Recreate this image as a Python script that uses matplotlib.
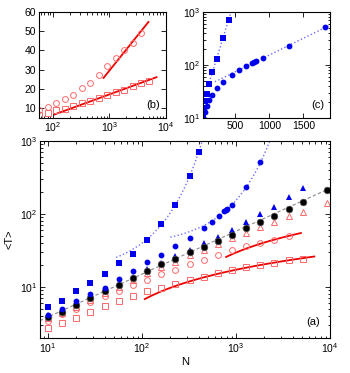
import numpy as np
import matplotlib
matplotlib.use("Agg")
import matplotlib.pyplot as plt

plt.rcParams['font.family'] = ['Liberation Sans', 'DejaVu Sans']
plt.rcParams['mathtext.fontset'] = 'custom'
plt.rcParams['mathtext.rm'] = 'Liberation Sans'
plt.rcParams['mathtext.it'] = 'Liberation Sans:italic'

# chain lengths (sqrt(2) grid)
N_grid = [10, 14, 20, 28, 40, 57, 80, 113, 160, 226, 320, 453, 640, 905,
          1280, 1810, 2560, 3620, 5120]

# red open squares / circles
T_red_sq = [2.7, 3.2, 3.8, 4.6, 5.5, 6.5, 7.6, 8.9, 9.8, 11.1, 12.5, 13.8,
            15.4, 17.1, 18.5, 19.7, 21.4, 23.1, 24.4]
T_red_ci = [3.4, 4.2, 5.0, 6.3, 7.5, 8.9, 10.7, 12.6, 15.0, 17.1, 20.3, 23.3,
            27.5, 32.0, 36.0, 40.2, 44.0, 49.3]

# blue filled squares / circles
N_blue_sq = [10, 14, 20, 28, 40, 57, 80, 113, 160, 226, 320, 400]
T_blue_sq = [5.3, 6.5, 8.9, 11.2, 15.2, 21.0, 28.3, 44.5, 72, 132, 328, 700]
N_blue_ci = [10, 14, 20, 28, 40, 57, 80, 113, 160, 226, 320, 453,
             560, 660, 750, 780, 810, 910, 1290, 1820]
T_blue_ci = [4.1, 5.0, 6.5, 8.0, 9.6, 13.0, 16.6, 21.9, 27.5, 36.5, 47.3, 63.6,
             78.5, 94, 110, 114, 118, 133, 231, 510]

# black dots, blue filled triangles, red open triangles
N_black = N_grid + [9300]
T_black = [3.9, 4.6, 5.6, 7.0, 8.9, 10.5, 13.1, 16.6, 20.5, 23.9, 29.9, 35.6,
           42.7, 51.5, 63.6, 76.9, 94, 117, 147, 213]
T_blue_tri = [4.1, 4.8, 5.9, 7.4, 9.3, 11.1, 13.8, 17.5, 21.6, 26.2, 32.1, 39.7,
              48.9, 60.4, 76.9, 99, 125, 169, 225]
T_red_tri = [3.7, 4.4, 5.3, 6.6, 8.3, 9.9, 12.3, 15.5, 19.0, 22.0, 27.4, 32.1,
             38.8, 46.5, 54.4, 65.8, 78.5, 94, 108, 140]

# theory lines
nu = 0.588                      # <T> ~ N^nu
log_sq = (10.7, -14.9, 107, 6800)   # slope, intercept (vs log10 N), N range
log_ci = (36.5, -79.9, 785, 4900)

BLUE = "#0000ee"
LBLUE = "#6f6fff"
RED = "#ff6a6a"
LRED = "#ee0000"


def exp_fit(N, T, nmin):
    N = np.asarray(N, float)
    T = np.asarray(T, float)
    m = N >= nmin
    return np.polyfit(N[m], np.log(T[m]), 1)


fit_bsq = exp_fit(N_blue_sq, T_blue_sq, 113)
fit_bci = exp_fit(N_blue_ci, T_blue_ci, 560)


def style(ax):
    ax.tick_params(which="both", direction="in", top=True, right=True,
                   labelsize=7.5, width=0.6, pad=2)
    ax.tick_params(which="major", length=3.5)
    ax.tick_params(which="minor", length=1.8)
    for s in ax.spines.values():
        s.set_linewidth(0.8)


fig = plt.figure(figsize=(3.5, 3.73), dpi=100)

# ---- main panel (a)
ax = fig.add_axes([0.114, 0.094, 0.829, 0.528])
ax.set_xscale("log")
ax.set_yscale("log")

x = np.logspace(np.log10(8.2), 4, 100)
ax.plot(x, x**nu, "--", color="#8c8c8c", lw=0.8, dashes=(3, 2))

xs = np.linspace(53, 520, 200)
ax.plot(xs, np.exp(np.polyval(fit_bsq, xs)), ":", color=LBLUE, lw=1.0)
xc = np.linspace(200, 2500, 200)
ax.plot(xc, np.exp(np.polyval(fit_bci, xc)), ":", color=LBLUE, lw=1.0)

for sl, ic, n0, n1 in (log_sq, log_ci):
    xl = np.logspace(np.log10(n0), np.log10(n1), 50)
    ax.plot(xl, ic + sl * np.log10(xl), "-", color=LRED, lw=1.3)

ax.plot(N_grid, T_red_sq, "s", mfc="none", mec=RED, ms=4.2, mew=0.7)
ax.plot(N_grid[:len(T_red_ci)], T_red_ci, "o", mfc="none", mec=RED, ms=4.2, mew=0.7)
ax.plot(N_black, T_red_tri, "^", mfc="none", mec=RED, ms=4.2, mew=0.7)
ax.plot(N_grid, T_blue_tri, "^", color=BLUE, ms=4.0, mew=0)
ax.plot(N_black, T_black, "o", mfc="black", mec="#555555", ms=4.8, mew=0.5)
ax.plot(N_blue_ci, T_blue_ci, "o", color=BLUE, ms=4.2, mew=0)
ax.plot(N_blue_sq, T_blue_sq, "s", color=BLUE, ms=4.0, mew=0)

ax.set_xlim(8.2, 1e4)
ax.set_ylim(2, 1000)
ax.set_xlabel("N", fontsize=8, labelpad=2)
ax.set_ylabel("<T>", fontsize=8, labelpad=4)
ax.text(0.94, 0.055, "(a)", transform=ax.transAxes, ha="center", va="bottom", fontsize=8)
style(ax)

# ---- inset (b)
axb = fig.add_axes([0.111, 0.684, 0.363, 0.284])
axb.set_xscale("log")
for sl, ic, n0, n1 in (log_sq, log_ci):
    xl = np.logspace(np.log10(n0), np.log10(n1), 50)
    axb.plot(xl, ic + sl * np.log10(xl), "-", color=LRED, lw=1.3)
axb.plot(N_grid, T_red_sq, "s", mfc="none", mec=RED, ms=4.2, mew=0.7)
axb.plot(N_grid[:len(T_red_ci)], T_red_ci, "o", mfc="none", mec=RED, ms=4.2, mew=0.7)
axb.set_xlim(56, 1e4)
axb.set_ylim(5, 60)
axb.set_yticks([10, 20, 30, 40, 50, 60])
axb.text(0.9, 0.07, "(b)", transform=axb.transAxes, ha="center", va="bottom", fontsize=8)
style(axb)

# ---- inset (c)
axc = fig.add_axes([0.58, 0.684, 0.363, 0.284])
axc.set_yscale("log")
xs = np.linspace(100, 520, 100)
axc.plot(xs, np.exp(np.polyval(fit_bsq, xs)), ":", color=LBLUE, lw=1.0)
xc = np.linspace(200, 1900, 100)
axc.plot(xc, np.exp(np.polyval(fit_bci, xc)), ":", color=LBLUE, lw=1.0)
axc.plot(N_blue_ci, T_blue_ci, "o", color=BLUE, ms=4.2, mew=0)
axc.plot(N_blue_sq, T_blue_sq, "s", color=BLUE, ms=4.0, mew=0)
axc.set_xlim(25, 1890)
axc.set_ylim(10, 1000)
axc.set_xticks([500, 1000, 1500])
axc.text(0.9, 0.07, "(c)", transform=axc.transAxes, ha="center", va="bottom", fontsize=8)
style(axc)

fig.savefig("out.png", dpi=100)
